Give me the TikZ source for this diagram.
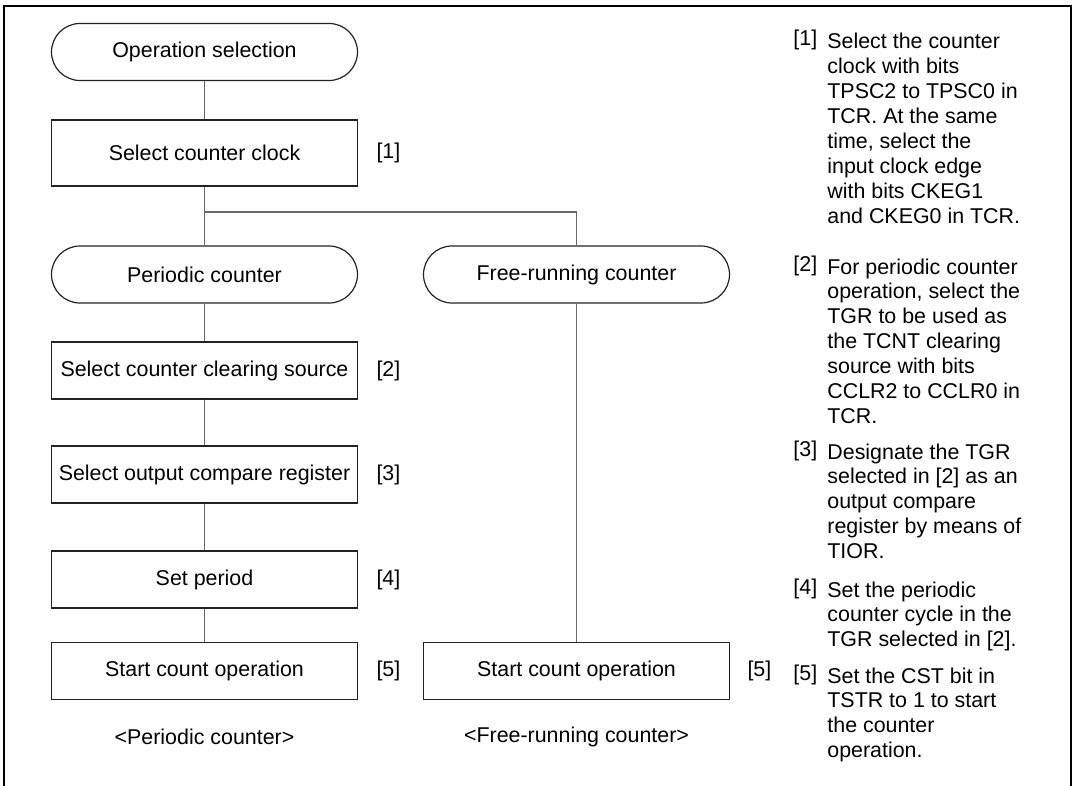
\documentclass[tikz,border=0pt]{standalone}
\usepackage{fontspec}
\setmainfont{Liberation Sans}
\definecolor{boxline}{RGB}{35,35,35}
\definecolor{linkgray}{RGB}{105,105,105}
\usepackage{tikz}
\usetikzlibrary{positioning,calc}

\begin{document}
\begin{tikzpicture}[x=0.5pt, y=-0.5pt,
  font=\fontsize{10.7}{12.45}\selectfont,
  procbox/.style={draw=boxline, line width=0.6pt, minimum width=153pt,
    minimum height=28.5pt, inner sep=0pt},
  termbox/.style={procbox, rounded corners=14.25pt},
  link/.style={draw=linkgray, line width=0.6pt},
  tag/.style={anchor=west, inner sep=0pt},
  notetag/.style={anchor=base west, inner sep=0pt, yshift=1.5pt},
  note/.style={anchor=base west, inner sep=0pt}]

\useasboundingbox (0,0) rectangle (1075,786);
\draw[line width=1.3pt] (4,786) -- (4,6) -- (1071,6) -- (1071,786);

\node[termbox] (opsel) at (204.5,52) {Operation selection};
\node[procbox, minimum height=33pt] (clk) at (204.5,153) {Select counter clock};
\node[termbox] (per) at (204.5,274.5) {Periodic counter};
\node[termbox] (free) at (576.5,274.5) {Free-running counter};
\node[procbox] (clr) at (204.5,370.5) {Select counter clearing source};
\node[procbox] (ocr) at (204.5,474.5) {Select output compare register};
\node[procbox] (prd) at (204.5,579.5) {Set period};
\node[procbox] (run1) at (204.5,671) {Start count operation};
\node[procbox] (run2) at (576.5,671) {Start count operation};

\node[tag, right=9pt of clk] (t1) {[1]};
\node[tag, right=9pt of clr] (t2) {[2]};
\node[tag, right=9pt of ocr] (t3) {[3]};
\node[tag, right=9pt of prd] (t4) {[4]};
\node[tag, right=9pt of run1] (t5) {[5]};
\node[tag, right=8.5pt of run2] (t5b) {[5]};

\node (cap1) at (204.5,737) {<Periodic counter>};
\node (cap2) at (576.5,737) {<Free-running counter>};

\coordinate (split) at (204.5,212);
\draw[link] (opsel) -- (clk);
\draw[link] (clk) -- (per);
\draw[link] (split) -| (free);
\draw[link] (per) -- (clr);
\draw[link] (clr) -- (ocr);
\draw[link] (ocr) -- (prd);
\draw[link] (prd) -- (run1);
\draw[link] (free) -- (run2);

% notes column
\node[notetag] (m1) at (793,49) {[1]};
\node[note] (n1) at (827,49) {\begin{tabular}[t]{@{}l@{}}Select the counter\\clock with bits\\TPSC2 to TPSC0 in\\TCR. At the same\\time, select the\\input clock edge\\with bits CKEG1\\and CKEG0 in TCR.\end{tabular}};
\node[notetag] (m2) at (793,274) {[2]};
\node[note] (n2) at (827,274) {\begin{tabular}[t]{@{}l@{}}For periodic counter\\operation, select the\\TGR to be used as\\the TCNT clearing\\source with bits\\CCLR2 to CCLR0 in\\TCR.\end{tabular}};
\node[notetag] (m3) at (793,459) {[3]};
\node[note] (n3) at (827,459) {\begin{tabular}[t]{@{}l@{}}Designate the TGR\\selected in [2] as an\\output compare\\register by means of\\TIOR.\end{tabular}};
\node[notetag] (m4) at (793,597) {[4]};
\node[note] (n4) at (827,597) {\begin{tabular}[t]{@{}l@{}}Set the periodic\\counter cycle in the\\TGR selected in [2].\end{tabular}};
\node[notetag] (m5) at (793,683) {[5]};
\node[note] (n5) at (827,683) {\begin{tabular}[t]{@{}l@{}}Set the CST bit in\\TSTR to 1 to start\\the counter\\operation.\end{tabular}};

\end{tikzpicture}
\end{document}
